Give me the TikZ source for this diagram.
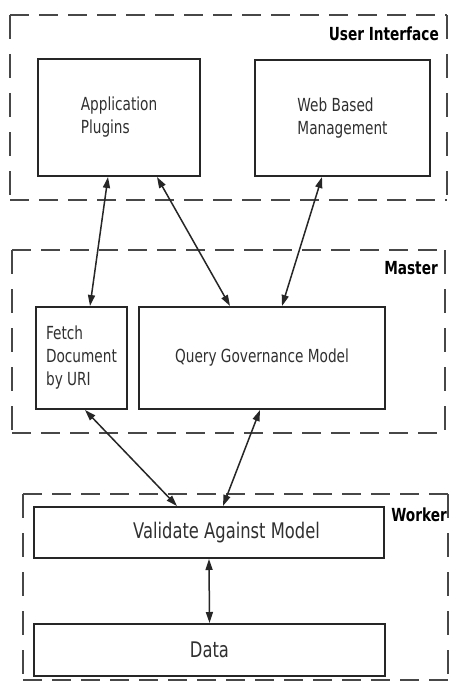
\documentclass[tikz,border=0pt]{standalone}
\usepackage{fontspec}
\setmainfont{DejaVu Sans}[FakeStretch=0.76]
\usetikzlibrary{arrows.meta}
\definecolor{ink}{HTML}{262626}
\definecolor{txt}{HTML}{303030}
\definecolor{dsh}{HTML}{474747}
\tikzset{
  box/.style={draw=ink, line width=2pt, fill=white, inner sep=0pt, text=txt,
              font=\fontsize{18}{23}\selectfont, align=left},
  bigbox/.style={box, font=\fontsize{21.5}{26}\selectfont},
  hgroup/.style={draw=dsh, line width=2.3pt, dash pattern=on 19pt off 10pt},
  vgroup/.style={draw=dsh, line width=2.3pt, dash pattern=on 24pt off 15pt},
  grouplabel/.style={anchor=east, font=\fontsize{18}{22}\selectfont\bfseries, text=black, inner sep=0pt},
  arr/.style={draw=ink, line width=1.5pt, {Triangle[length=11pt,width=7pt]}-{Triangle[length=11pt,width=7pt]}}
}
\begin{document}
\begin{tikzpicture}[x=1pt,y=-1pt]
\useasboundingbox (0,0) rectangle (450,682);
\fill[white] (0,0) rectangle (450,682);

% group frames (horizontal and vertical edges dashed differently)
\draw[hgroup] (10,15) -- (447,15) (10,200) -- (447,200);
\draw[vgroup] (10,15) -- (10,200) (447,15) -- (447,200);
\draw[hgroup] (12,250) -- (445,250) (12,433) -- (445,433);
\draw[vgroup] (12,250) -- (12,433) (445,250) -- (445,433);
\draw[hgroup] (23,494) -- (448,494) (23,680) -- (448,680);
\draw[vgroup] (23,494) -- (23,680) (448,494) -- (448,680);

\node[grouplabel] (uil) at (439,34) {User Interface};
\node[grouplabel] (msl) at (438,268) {Master};
\node[grouplabel, fill=white] (wkl) at (447,515) {Worker};

% boxes
\node[box, minimum width=162pt, minimum height=117pt] (app) at (119,117.5) {Application\\Plugins};
\node[box, minimum width=175pt, minimum height=116pt] (web) at (342.5,118) {Web Based\\Management};
\node[box, minimum width=91pt, minimum height=102pt] (fetch) at (81.5,358) {Fetch\\Document\\by URI};
\node[box, minimum width=246pt, minimum height=102pt] (query) at (262,358) {Query Governance Model};
\node[bigbox, minimum width=350pt, minimum height=51pt] (val) at (209,532.5) {\hspace*{35pt}Validate Against Model};
\node[bigbox, minimum width=351pt, minimum height=52pt] (data) at (209.5,650) {Data};

% connectors
\draw[arr] ([xshift=-11pt]app.south) -- ([xshift=8.5pt]fetch.north);
\draw[arr] ([xshift=38pt]app.south) -- ([xshift=-32pt]query.north);
\draw[arr] ([xshift=-20.5pt]web.south) -- ([xshift=20pt]query.north);
\draw[arr] ([xshift=3.5pt]fetch.south) -- ([xshift=-32pt]val.north);
\draw[arr] ([xshift=-2pt]query.south) -- ([xshift=14pt]val.north);
\draw[arr] (val.south) -- (data.north);
\end{tikzpicture}
\end{document}
